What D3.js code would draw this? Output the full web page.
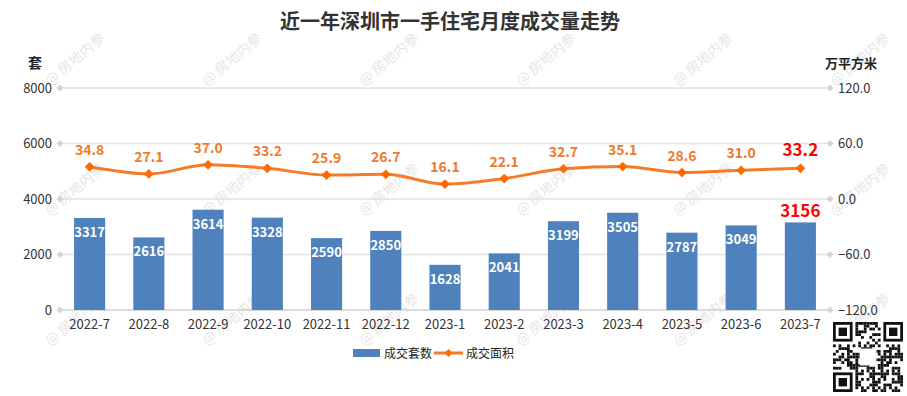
<!DOCTYPE html>
<html>
<head>
<meta charset="utf-8">
<script src="https://cdn.jsdelivr.net/npm/d3@7"></script>
<style>
  body { margin: 0; background: #fff; }
  svg { font-family: "Noto Sans CJK SC", "Noto Sans", sans-serif; }
</style>
</head>
<body>
<svg id="chart" width="907" height="396"></svg>
<script>
const months = ["2022-7", "2022-8", "2022-9", "2022-10", "2022-11", "2022-12", "2023-1", "2023-2", "2023-3", "2023-4", "2023-5", "2023-6", "2023-7"];
const units = [3317, 2616, 3614, 3328, 2590, 2850, 1628, 2041, 3199, 3505, 2787, 3049, 3156];
const area = [34.8, 27.1, 37.0, 33.2, 25.9, 26.7, 16.1, 22.1, 32.7, 35.1, 28.6, 31.0, 33.2];
const leftTicks = [0, 2000, 4000, 6000, 8000];
const rightTicks = [-120, -60, 0, 60, 120];

const barColor = "#4f81bd", lineColor = "#f47b2a", dotColor = "#ff6a00", hiColor = "#ff0000";

const svg = d3.select("#chart");
const margin = {top: 88, left: 60, right: 77, bottom: 86};
const width = 907 - margin.left - margin.right;
const height = 396 - margin.top - margin.bottom;

// watermark
const wm = svg.append("g").attr("class", "watermark");
[63, 193, 323].forEach(y => {
  [78, 235, 392, 549, 706, 863].forEach(x => {
    wm.append("text")
      .attr("transform", "translate(" + x + "," + y + ") rotate(-40)")
      .attr("text-anchor", "middle")
      .attr("font-size", 14)
      .attr("fill", "#e6e6e6")
      .text("@ 房地内参");
  });
});

svg.append("text")
  .attr("x", 450).attr("y", 29)
  .attr("text-anchor", "middle")
  .attr("font-size", 20).attr("font-weight", "bold")
  .attr("fill", "#333")
  .text("近一年深圳市一手住宅月度成交量走势");

const g = svg.append("g").attr("transform", "translate(" + margin.left + "," + margin.top + ")");

const x = d3.scaleBand().domain(months).range([0, width]).paddingInner(0.475).paddingOuter(0.2375);
const y = d3.scaleLinear().domain([0, 8000]).range([height, 0]);
const y2 = d3.scaleLinear().domain([-120, 120]).range([height, 0]);

// grid
g.selectAll(".grid").data(leftTicks).enter().append("line")
  .attr("x1", 0).attr("x2", width)
  .attr("y1", d => y(d)).attr("y2", d => y(d))
  .attr("stroke", d => d === 0 ? "#d0d0d0" : "#e2e2e2").attr("stroke-width", 1.5);

const diamond = d3.symbol().type(d3.symbolDiamond2).size(30);
g.selectAll(".ld").data(leftTicks).enter().append("path")
  .attr("d", diamond).attr("fill", "#d4d4d4")
  .attr("transform", d => "translate(0," + y(d) + ")");
g.selectAll(".rd").data(rightTicks).enter().append("path")
  .attr("d", diamond).attr("fill", "#d4d4d4")
  .attr("transform", d => "translate(" + width + "," + y2(d) + ")");

// axes
const yAxis = g.append("g").call(d3.axisLeft(y).tickValues(leftTicks).tickSize(0).tickPadding(8).tickFormat(d3.format("d")));
const y2Axis = g.append("g").attr("transform", "translate(" + width + ",0)")
  .call(d3.axisRight(y2).tickValues(rightTicks).tickSize(0).tickPadding(8).tickFormat(d3.format(".1f")));
const xAxis = g.append("g").attr("transform", "translate(0," + height + ")")
  .call(d3.axisBottom(x).tickSize(0).tickPadding(10));
[yAxis, y2Axis, xAxis].forEach(a => {
  a.select(".domain").remove();
  a.selectAll("text").attr("font-size", 13).attr("fill", "#333")
    .attr("font-family", "\"Noto Sans CJK SC\", sans-serif");
});

svg.append("text").attr("x", 35).attr("y", 68)
  .attr("font-size", 14).attr("fill", "#222").attr("text-anchor", "middle").attr("font-weight", "bold")
  .text("套");
svg.append("text").attr("x", 851).attr("y", 68)
  .attr("font-size", 13).attr("fill", "#222").attr("text-anchor", "middle").attr("font-weight", "bold")
  .text("万平方米");

// bars
g.selectAll(".bar").data(units).enter().append("rect")
  .attr("x", (d, i) => x(months[i]))
  .attr("y", d => y(d))
  .attr("width", x.bandwidth())
  .attr("height", d => height - y(d))
  .attr("fill", barColor);

const last = units.length - 1;
g.selectAll(".barlabel").data(units).enter().append("text")
  .attr("x", (d, i) => x(months[i]) + x.bandwidth() / 2)
  .attr("y", (d, i) => i === last ? y(d) - 5 : y(d) + 19)
  .attr("text-anchor", "middle")
  .attr("font-weight", "bold")
  .attr("font-size", (d, i) => i === last ? 17 : 13)
  .attr("fill", (d, i) => i === last ? hiColor : "#fff")
  .text(d => d);

// line
const cx = i => x(months[i]) + x.bandwidth() / 2;
const line = d3.line().x((d, i) => cx(i)).y(d => y2(d)).curve(d3.curveMonotoneX);
g.append("path").datum(area)
  .attr("d", line).attr("fill", "none")
  .attr("stroke", lineColor).attr("stroke-width", 3);

g.selectAll(".dot").data(area).enter().append("path")
  .attr("d", d3.symbol().type(d3.symbolDiamond2).size(60))
  .attr("fill", dotColor)
  .attr("transform", (d, i) => "translate(" + cx(i) + "," + y2(d) + ")");

g.selectAll(".linelabel").data(area).enter().append("text")
  .attr("x", (d, i) => cx(i))
  .attr("y", d => y2(d) - 12)
  .attr("text-anchor", "middle")
  .attr("font-weight", "bold")
  .attr("font-size", (d, i) => i === last ? 17 : 14)
  .attr("fill", (d, i) => i === last ? hiColor : "#f07a2c")
  .text(d => d3.format(".1f")(d));

// legend
const lg = svg.append("g").attr("transform", "translate(353,353)");
lg.append("rect").attr("x", 0).attr("y", -4).attr("width", 27).attr("height", 8).attr("fill", barColor);
lg.append("text").attr("x", 31).attr("y", 5).attr("font-size", 12).attr("fill", "#222").text("成交套数");
lg.append("line").attr("x1", 81).attr("x2", 110).attr("y1", 0).attr("y2", 0)
  .attr("stroke", lineColor).attr("stroke-width", 3);
lg.append("path").attr("d", d3.symbol().type(d3.symbolDiamond2).size(40)).attr("fill", dotColor)
  .attr("transform", "translate(95.5,0)");
lg.append("text").attr("x", 113).attr("y", 5).attr("font-size", 12).attr("fill", "#222").text("成交面积");

// qr-style badge
const qr = svg.append("g").attr("transform", "translate(833,322)");
const cell = 70 / 25;
qr.append("rect").attr("width", 70).attr("height", 70).attr("fill", "#fff");
for (let r = 0; r < 25; r++) {
  for (let c = 0; c < 25; c++) {
    const finder = (r < 8 && c < 8) || (r < 8 && c > 16) || (r > 16 && c < 8);
    if (finder) continue;
    const h = (r * 131 + c * 71 + r * c * 17 + (r ^ c) * 29) % 97;
    if (h < 48) {
      qr.append("rect").attr("x", c * cell).attr("y", r * cell)
        .attr("width", cell).attr("height", cell).attr("fill", "#111");
    }
  }
}
[[0, 0], [18, 0], [0, 18]].forEach(([c, r]) => {
  qr.append("rect").attr("x", c * cell + cell / 2).attr("y", r * cell + cell / 2)
    .attr("width", cell * 6).attr("height", cell * 6)
    .attr("fill", "none").attr("stroke", "#111").attr("stroke-width", cell);
  qr.append("rect").attr("x", (c + 2) * cell).attr("y", (r + 2) * cell)
    .attr("width", cell * 3).attr("height", cell * 3).attr("fill", "#111");
});
qr.append("rect").attr("x", 27).attr("y", 27).attr("width", 16).attr("height", 16)
  .attr("fill", "#fff").attr("stroke", "#eee");
</script>
</body>
</html>
